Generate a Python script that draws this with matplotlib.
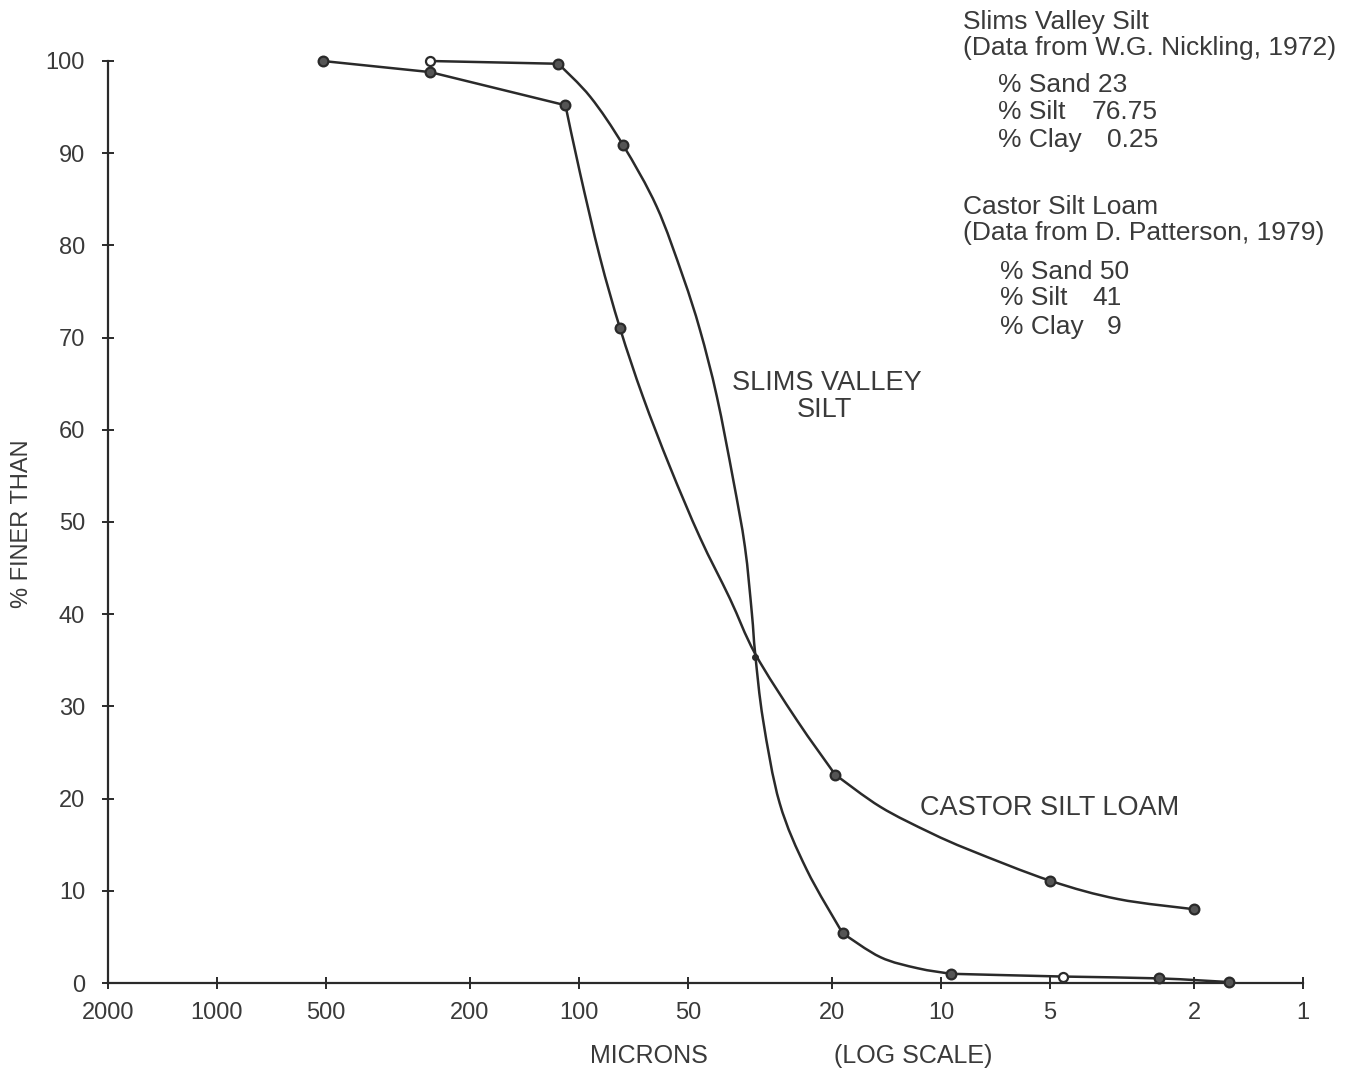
import numpy as np
import matplotlib
matplotlib.use("Agg")
import matplotlib.pyplot as plt
from matplotlib.path import Path
from matplotlib.patches import PathPatch

plt.rcParams['font.family'] = ['Liberation Sans', 'DejaVu Sans']

# particle size (microns) and % finer than
# points along the drawn curves (hand drawn lines through the data)
slims_trace_um = [258, 114, 93, 75.6, 61, 51.6, 46.3, 41.6, 37.5, 34.8, 33.3, 32.6,
                  31.0, 27.9, 23.5, 18.7, 14.7, 11.6, 9.4, 4.6, 2.5, 1.6]
slims_trace_pct = [100, 99.7, 96.1, 90.9, 84.2, 76.6, 70.8, 63.6, 54.6, 47.3, 40.1, 35.7,
                   28.5, 19.5, 12.3, 5.4, 2.8, 1.6, 1.0, 0.7, 0.5, 0.1]
castor_trace_um = [510, 258, 109, 99.4, 87.5, 77, 66.6, 56.1, 46.3, 38.3, 32.6,
                   25.0, 19.6, 14.7, 10.7, 8.3, 5.0, 3.24, 2.0]
castor_trace_pct = [100, 98.8, 95.2, 87.9, 78.7, 71.0, 63.6, 56.0, 48.3, 41.7, 35.7,
                    28.5, 22.6, 19.1, 16.3, 14.4, 11.1, 9.1, 8.0]
# where the pen line has a sharp bend (index into the trace lists)
slims_bends = [1, 15, 18]
castor_bends = [1, 2, 12]

# measured sample points
slims_um = [258, 114, 75.6, 32.6, 18.7, 9.4, 4.6, 2.5, 1.6]
slims_pct = [100, 99.7, 90.9, 35.4, 5.4, 1.0, 0.7, 0.5, 0.1]
slims_open = [0, 6]      # hollow circles
slims_small = [3]        # the little dot at the crossing
castor_um = [510, 258, 109, 77, 19.6, 5.0, 2.0]
castor_pct = [100, 98.8, 95.2, 71.0, 22.6, 11.1, 8.0]

xticks = [2000, 1000, 500, 200, 100, 50, 20, 10, 5, 2, 1]
yticks = [0, 10, 20, 30, 40, 50, 60, 70, 80, 90, 100]

ink = '#2a2a2a'
txt = '#3a3a3a'
W, H = 1353, 1076


def px(x, y):
    # figure fraction from pixel position
    return x / W, 1 - y / H


def bezier_piece(um, pct, verts, codes):
    # catmull-rom style handles, worked out in log space so it follows the log axis
    u = np.log10(um)
    v = np.array(pct, dtype=float)
    n = len(u)
    for i in range(n - 1):
        i0 = max(i - 1, 0)
        i3 = min(i + 2, n - 1)
        c1u = u[i] + (u[i + 1] - u[i0]) / 6
        c1v = v[i] + (v[i + 1] - v[i0]) / 6
        c2u = u[i + 1] - (u[i3] - u[i]) / 6
        c2v = v[i + 1] - (v[i3] - v[i]) / 6
        verts += [(10 ** c1u, c1v), (10 ** c2u, c2v), (um[i + 1], pct[i + 1])]
        codes += [Path.CURVE4] * 3


def smooth_curve(ax, um, pct, bends):
    verts = [(um[0], pct[0])]
    codes = [Path.MOVETO]
    cuts = [0] + list(bends) + [len(um) - 1]
    for a, b in zip(cuts[:-1], cuts[1:]):
        bezier_piece(um[a:b + 1], pct[a:b + 1], verts, codes)
    patch = PathPatch(Path(verts, codes), fill=False, ec=ink, lw=1.8, clip_on=False, zorder=3)
    ax.add_patch(patch)


def draw_points(ax, um, pct, hollow=(), small=()):
    for i in range(len(um)):
        if i in hollow:
            ax.plot(um[i], pct[i], 'o', ms=6.5, mfc='white', mec=ink, mew=1.6, clip_on=False, zorder=4)
        elif i in small:
            ax.plot(um[i], pct[i], 'o', ms=4, mfc=ink, mec=ink, clip_on=False, zorder=4)
        else:
            ax.plot(um[i], pct[i], 'o', ms=7, mfc='#555555', mec=ink, mew=1.6, clip_on=False, zorder=4)


def main():
    fig = plt.figure(figsize=(W / 100, H / 100), dpi=100)
    ax = fig.add_axes([108 / W, 1 - 983 / H, 1195 / W, 922 / H])

    ax.set_xscale('log')
    ax.set_xlim(2000, 1)
    ax.set_ylim(0, 100)

    smooth_curve(ax, slims_trace_um, slims_trace_pct, slims_bends)
    smooth_curve(ax, castor_trace_um, castor_trace_pct, castor_bends)
    draw_points(ax, slims_um, slims_pct, slims_open, slims_small)
    draw_points(ax, castor_um, castor_pct)

    ax.set_xticks(xticks)
    ax.set_xticklabels([str(t) for t in xticks])
    ax.minorticks_off()
    ax.set_yticks(yticks)
    ax.set_yticklabels([str(t) for t in yticks])

    for s in ['top', 'right']:
        ax.spines[s].set_visible(False)
    for s in ['left', 'bottom']:
        ax.spines[s].set_color(ink)
        ax.spines[s].set_linewidth(1.6)
    ax.tick_params(axis='both', direction='inout', length=9, width=1.4, color=ink,
                   labelsize=17, labelcolor=txt)
    ax.tick_params(axis='y', pad=12)
    ax.tick_params(axis='x', pad=9)

    # axis titles
    fig.text(*px(22, 524), '% FINER THAN', rotation=90, ha='center', va='center',
             fontsize=17, color=txt)
    fig.text(*px(649, 1056), 'MICRONS', ha='center', va='center', fontsize=18, color=txt)
    fig.text(*px(913, 1056), '(LOG SCALE)', ha='center', va='center', fontsize=18, color=txt)

    # curve labels
    fig.text(*px(827, 383), 'SLIMS VALLEY', ha='center', va='center', fontsize=19.5, color=txt)
    fig.text(*px(824, 410), 'SILT', ha='center', va='center', fontsize=19.5, color=txt)
    fig.text(*px(1050, 808), 'CASTOR SILT LOAM', ha='center', va='center', fontsize=19.5, color=txt)

    # source notes, top right
    fs = 19
    fig.text(*px(963, 22), 'Slims Valley Silt', va='center', fontsize=fs, color=txt)
    fig.text(*px(963, 48), '(Data from W.G. Nickling, 1972)', va='center', fontsize=fs, color=txt)
    fig.text(*px(998, 85), '% Sand 23', va='center', fontsize=fs, color=txt)
    fig.text(*px(998, 112), '% Silt', va='center', fontsize=fs, color=txt)
    fig.text(*px(1158, 112), '76.75', va='center', ha='right', fontsize=fs, color=txt)
    fig.text(*px(998, 140), '% Clay', va='center', fontsize=fs, color=txt)
    fig.text(*px(1158, 140), '0.25', va='center', ha='right', fontsize=fs, color=txt)

    fig.text(*px(963, 207), 'Castor Silt Loam', va='center', fontsize=fs, color=txt)
    fig.text(*px(963, 233), '(Data from D. Patterson, 1979)', va='center', fontsize=fs, color=txt)
    fig.text(*px(1000, 272), '% Sand 50', va='center', fontsize=fs, color=txt)
    fig.text(*px(1000, 298), '% Silt', va='center', fontsize=fs, color=txt)
    fig.text(*px(1122, 298), '41', va='center', ha='right', fontsize=fs, color=txt)
    fig.text(*px(1000, 327), '% Clay', va='center', fontsize=fs, color=txt)
    fig.text(*px(1122, 327), '9', va='center', ha='right', fontsize=fs, color=txt)

    fig.savefig('out.png', dpi=100)


if __name__ == "__main__":
    main()
